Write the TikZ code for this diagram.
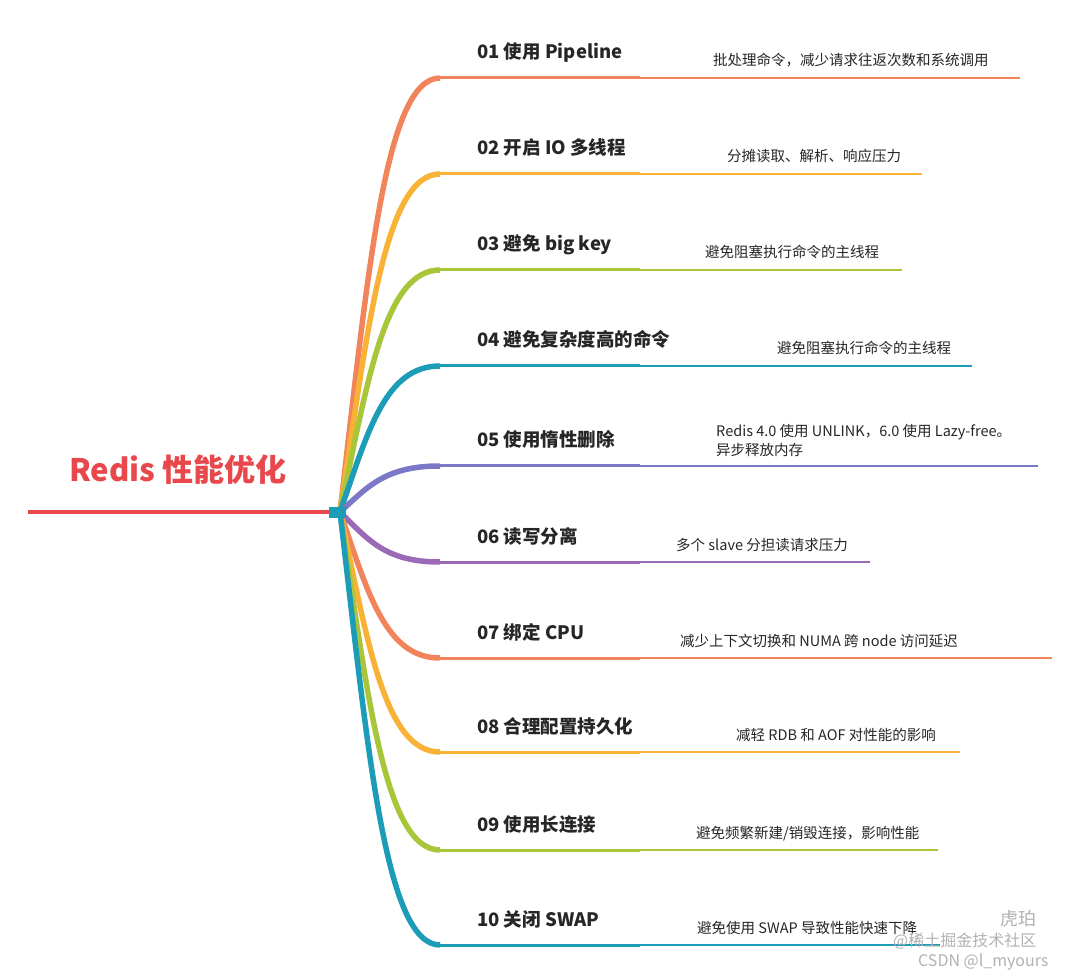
\documentclass[tikz,border=0pt]{standalone}
\usepackage{fontspec}
\setmainfont{Noto Sans CJK SC}
\begin{document}
\begin{tikzpicture}[x=1pt,y=-1pt,
  lab/.style={anchor=base west,font=\fontsize{18.5}{20}\selectfont\bfseries,text=black!85,inner sep=0},
  desc/.style={anchor=base west,font=\fontsize{14.5}{19}\selectfont,text=black!85,inner sep=0,align=left},
  wm/.style={anchor=base west,font=\fontsize{18}{20}\selectfont,text=black!30,inner sep=0}]
\useasboundingbox[fill=white] (0,0) rectangle (1080,976);
\definecolor{cO}{HTML}{F2845C}\definecolor{cY}{HTML}{F8B236}\definecolor{cG}{HTML}{A9C63B}
\definecolor{cT}{HTML}{1C9CB6}\definecolor{cP}{HTML}{7B78C7}\definecolor{cV}{HTML}{9A6AB6}
\definecolor{cR}{HTML}{E8474B}
\coordinate (hub) at (340,512);
\coordinate (rootL) at (28,512);
\draw[cR,line width=4] (rootL) -- (hub);
\node[anchor=base,font=\fontsize{31}{33}\selectfont\bfseries,text=cR,inner sep=0] (title) at (178,482) {Redis 性能优化};
\foreach \y/\xe/\c/\lab/\xd/\d [count=\i] in {
 78/1020/cO/{01 使用 Pipeline}/713/{批处理命令，减少请求往返次数和系统调用},
 174/922/cY/{02 开启 IO 多线程}/727/{分摊读取、解析、响应压力},
 270/902/cG/{03 避免 big key}/705/{避免阻塞执行命令的主线程},
 366/972/cT/{04 避免复杂度高的命令}/777/{避免阻塞执行命令的主线程},
 466/1038/cP/{05 使用惰性删除}/716/{},
 562/870/cV/{06 读写分离}/676/{多个 slave 分担读请求压力},
 658/1052/cO/{07 绑定 CPU}/680/{减少上下文切换和 NUMA 跨 node 访问延迟},
 752/960/cY/{08 合理配置持久化}/736/{减轻 RDB 和 AOF 对性能的影响},
 850/938/cG/{09 使用长连接}/696/{避免频繁新建/销毁连接，影响性能},
 945/940/cT/{10 关闭 SWAP}/697/{避免使用 SWAP 导致性能快速下降}}{
  \coordinate (a\i) at (440,\y);
  \coordinate (m\i) at (640,\y);
  \coordinate (e\i) at (\xe,\y);
  \pgfmathsetmacro{\ym}{512+(\y-512)*0.55}
  \draw[\c,line width=5.5] (hub) .. controls (368,\ym) and (385,\y) .. (a\i);
  \draw[\c,line width=3] (a\i) -- (m\i);
  \draw[\c,line width=2] (m\i) -- (e\i);
  \node[lab] (l\i) at (477,\y-19) {\lab};
  \node[desc] (d\i) at (\xd,\y-12) {\d};
}
\node[desc] (d5b) at (716,456) {Redis 4.0 使用 UNLINK，6.0 使用 Lazy-free。\\异步释放内存};
\fill[cT] (329,507) rectangle (346,518);
\node[wm] (w1) at (1000,925) {虎珀};
\node[wm,font=\fontsize{16}{18}\selectfont] (w2) at (893,946) {@稀土掘金技术社区};
\node[wm,font=\fontsize{16}{18}\selectfont] (w3) at (918,966) {CSDN @l\_myours};
\end{tikzpicture}
\end{document}
